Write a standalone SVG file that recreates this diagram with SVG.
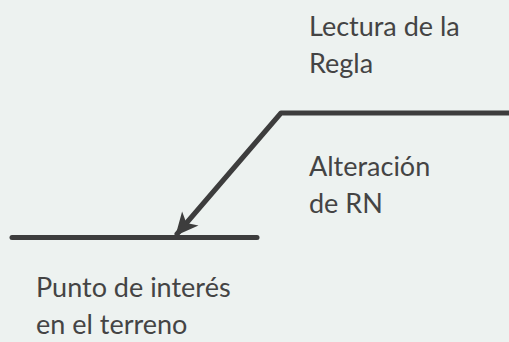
<svg xmlns="http://www.w3.org/2000/svg" width="509" height="342" viewBox="0 0 509 342">
<style>
.t{font-family:"Lato","Liberation Sans",sans-serif;font-size:27px;fill:#444}
.ln{fill:none;stroke:#3d3d3d;stroke-width:5;stroke-linecap:round;stroke-linejoin:round}
</style>
<defs>
<marker id="ah" markerUnits="userSpaceOnUse" orient="auto" markerWidth="30" markerHeight="30" refX="0" refY="0" viewBox="-20 -10 25 20" overflow="visible">
<path d="M2,0 L-17,-9 L-12,0 L-17,9 Z" fill="#3d3d3d"/>
</marker>
</defs>
<rect width="509" height="342" fill="#edf2f0"/>
<g id="connectors">
<path class="ln" d="M509,113 L281,113 L177,234" marker-end="url(#ah)"/>
<line class="ln" x1="12" y1="237.5" x2="257" y2="237.5"/>
</g>
<g id="lectura"><text class="t" x="309" y="36">Lectura de la</text><text class="t" x="309" y="73">Regla</text></g>
<g id="alteracion"><text class="t" x="309" y="176">Alteración</text><text class="t" x="309" y="213">de RN</text></g>
<g id="punto"><text class="t" x="36" y="297">Punto de interés</text><text class="t" x="36" y="334">en el terreno</text></g>
</svg>
